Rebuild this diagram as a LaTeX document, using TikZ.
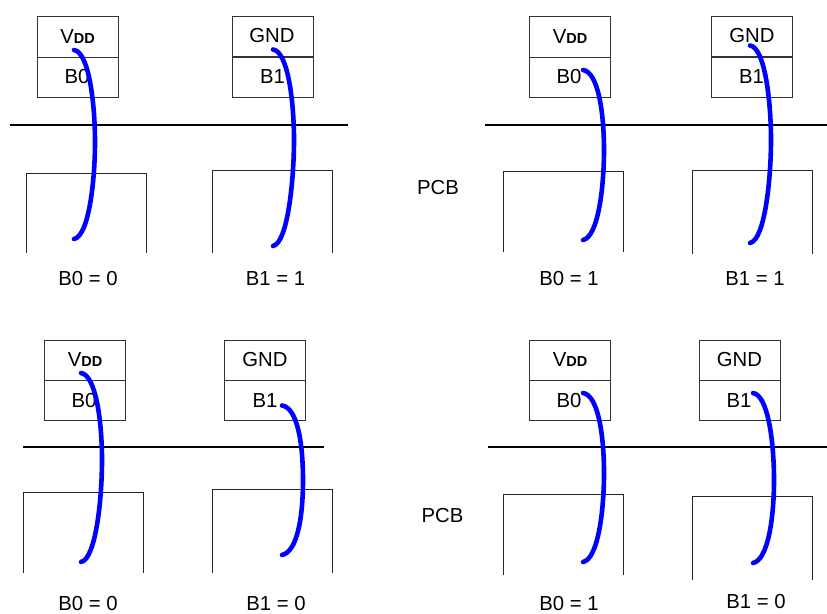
\documentclass[tikz,border=0pt]{standalone}
\usepackage{fontspec}
\setmainfont{Liberation Sans}
\newcommand{\vddtext}{V{\fontsize{14.5}{15}\selectfont\bfseries DD}}
\tikzset{
  cell/.style={draw=black!80,line width=0.9pt,rectangle,minimum width=81pt,minimum height=40.5pt,inner sep=0pt,outer sep=0pt},
  lab/.style={anchor=base,inner sep=0pt,outer sep=0pt,font=\fontsize{20.3}{24}\selectfont,text=black},
  rail/.style={draw=black,line width=2pt},
  pad/.style={draw=black!85,line width=0.8pt},
  bond/.style={draw=blue,line width=4.6pt,line cap=round}
}
% \bondwire{prefix}{x}{ytop}{xmax}{ymid}{ybottom}
\newcommand{\bondwire}[6]{%
  \coordinate (#1a) at (#2,#3);
  \coordinate (#1m) at (#4,#5);
  \coordinate (#1b) at (#2,#6);
  \draw[bond] (#1a) .. controls ([xshift=15pt,yshift=-2pt]#1a) and ([yshift=38pt]#1m) .. (#1m)
     .. controls ([yshift=-38pt]#1m) and ([xshift=15pt,yshift=3pt]#1b) .. (#1b);
}
\begin{document}
\begin{tikzpicture}[x=1pt,y=-1pt]
\useasboundingbox (0,0) rectangle (827,613);
% Panel 1
\node[cell] (a1) at (77.5,36.75) {};
\node[cell] (a2) at (77.5,77.25) {};
\node[cell] (a3) at (272.5,36.75) {};
\node[cell] (a4) at (272.5,77) {};
\node[lab] (a5) at (77.5,43) {\vddtext};
\node[lab] (a6) at (77,83.5) {B0};
\node[lab] (a7) at (272,42.7) {GND};
\node[lab] (a8) at (272.5,83.3) {B1};
\coordinate (ar1) at (10,124.5); \coordinate (ar2) at (348,124.5);
\draw[rail] (ar1) -- (ar2);
\draw[pad] (26,253) |- (146,173.5) -- (146,253);
\draw[pad] (212,253) |- (332,170) -- (332,253);
\node[lab] (a9) at (88,285.7) {B0 = 0};
\node[lab] (a10) at (275.5,285.7) {B1 = 1};
\bondwire{aw}{74}{50}{95}{142}{239}
\bondwire{ax}{273}{49.5}{294}{140}{246}
% Panel 2
\node[cell] (b1) at (570,36.75) {};
\node[cell] (b2) at (570,77.25) {};
\node[cell] (b3) at (752.2,36.75) {};
\node[cell] (b4) at (752.2,77) {};
\node[lab] (b5) at (570,43) {\vddtext};
\node[lab] (b6) at (569,83.5) {B0};
\node[lab] (b7) at (752,42.7) {GND};
\node[lab] (b8) at (751.5,83.3) {B1};
\coordinate (br1) at (485,124.5); \coordinate (br2) at (827,124.5);
\draw[rail] (br1) -- (br2);
\draw[pad] (503.7,252) |- (623.5,171.5) -- (623.5,252);
\draw[pad] (692.3,254) |- (812.3,170) -- (812.3,254);
\node[lab] (b9) at (569,285.7) {B0 = 1};
\node[lab] (b10) at (755,285.7) {B1 = 1};
\node[lab] (b11) at (438,194) {PCB};
\bondwire{bw}{583}{70}{604}{150}{240}
\bondwire{bx}{750}{45.5}{771}{140}{243}
% Panel 3
\node[cell] (c1) at (85,360.25) {};
\node[cell] (c2) at (85,400.5) {};
\node[cell] (c3) at (265.2,360.25) {};
\node[cell] (c4) at (265.2,400.25) {};
\node[lab] (c5) at (85,366.7) {\vddtext};
\node[lab] (c6) at (84,407.3) {B0};
\node[lab] (c7) at (265,366.5) {GND};
\node[lab] (c8) at (265,407.3) {B1};
\coordinate (cr1) at (23,447.3); \coordinate (cr2) at (324,447.3);
\draw[rail] (cr1) -- (cr2);
\draw[pad] (23.5,573) |- (143.5,492.5) -- (143.5,573);
\draw[pad] (212.3,573) |- (332.3,489.5) -- (332.3,573);
\node[lab] (c9) at (88,610) {B0 = 0};
\node[lab] (c10) at (276,610) {B1 = 0};
\bondwire{cw}{81}{373}{102}{460}{562}
\bondwire{cx}{282}{405.5}{303}{480}{555}
% Panel 4
\node[cell] (d1) at (570,360.25) {};
\node[cell] (d2) at (570,400.5) {};
\node[cell] (d3) at (740,360.25) {};
\node[cell] (d4) at (740,400.25) {};
\node[lab] (d5) at (570,366.7) {\vddtext};
\node[lab] (d6) at (569,407.3) {B0};
\node[lab] (d7) at (739.5,366.5) {GND};
\node[lab] (d8) at (739,407.3) {B1};
\coordinate (dr1) at (488,447.3); \coordinate (dr2) at (827,447.3);
\draw[rail] (dr1) -- (dr2);
\draw[pad] (503.7,575) |- (623.5,494.5) -- (623.5,575);
\draw[pad] (692.3,580) |- (812.3,496.5) -- (812.3,580);
\node[lab] (d9) at (569,610) {B0 = 1};
\node[lab] (d10) at (756,608.3) {B1 = 0};
\node[lab] (d11) at (442.5,522.7) {PCB};
\bondwire{dw}{583}{393}{604}{473}{562}
\bondwire{dx}{753}{393}{774}{480}{563}
\end{tikzpicture}
\end{document}
